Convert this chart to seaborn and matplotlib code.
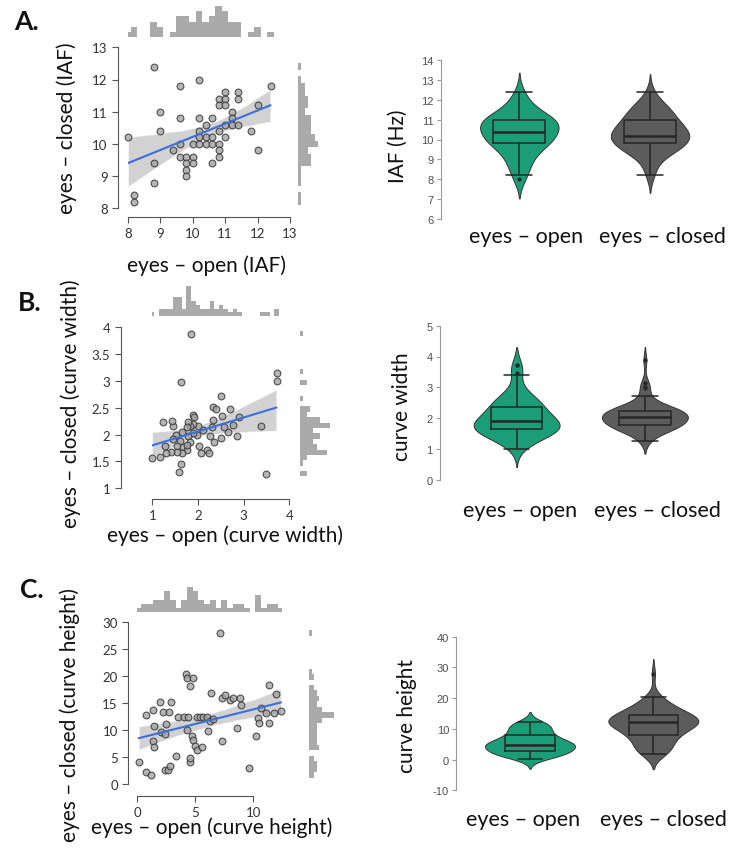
import matplotlib
matplotlib.use("Agg")
import matplotlib.pyplot as plt
import numpy as np
import pandas as pd
import seaborn as sns

sns.set_style("ticks")
plt.rcParams["font.family"] = ["Lato", "DejaVu Sans"]

# --- data (paired: eyes open / eyes closed) ---
iaf_open = [8.8, 10.2, 9.6, 12.4, 11.0, 11.4, 10.8, 11.0, 11.4, 10.8, 11.0, 12.0, 11.2, 9.0,
            9.6, 10.2, 10.6, 11.2, 10.4, 11.0, 11.2, 11.4, 10.2, 10.8, 11.8, 9.0, 8.0, 10.2,
            10.4, 10.6, 11.0, 9.6, 10.0, 10.2, 10.4, 10.6, 10.8, 9.4, 12.0, 10.8, 10.8, 9.6,
            9.8, 10.0, 9.8, 10.0, 8.8, 10.6, 9.8, 9.8, 8.8, 8.2, 8.2]
iaf_closed = [12.4, 12.0, 11.8, 11.8, 11.6, 11.6, 11.4, 11.4, 11.4, 11.2, 11.2, 11.2, 11.0, 11.0,
              10.8, 10.8, 10.8, 10.8, 10.6, 10.6, 10.6, 10.6, 10.4, 10.4, 10.4, 10.4, 10.2, 10.2,
              10.2, 10.2, 10.2, 10.0, 10.0, 10.0, 10.0, 10.0, 10.0, 9.8, 9.8, 9.8, 9.6, 9.6,
              9.6, 9.6, 9.4, 9.4, 9.4, 9.4, 9.2, 9.0, 8.8, 8.4, 8.2]

width_open = [1.84, 1.63, 3.72, 3.72, 2.51, 2.34, 2.40, 2.71, 2.89, 2.52, 2.32, 3.39, 2.85, 2.65,
              2.56, 2.77, 2.31, 2.26, 2.36, 2.50, 2.19, 2.25, 2.07, 2.03, 2.10, 2.01, 1.90, 1.92,
              1.89, 1.83, 1.79, 1.75, 1.97, 1.90, 1.79, 1.83, 1.66, 1.52, 1.46, 1.44, 1.23, 1.61,
              1.54, 1.46, 1.68, 1.75, 1.77, 1.64, 1.53, 1.42, 1.31, 1.28, 1.17, 0.99, 1.63, 1.58,
              3.48]
width_closed = [3.88, 2.98, 3.14, 3.00, 2.72, 2.51, 2.47, 2.47, 2.32, 2.34, 2.27, 2.17, 1.97, 2.04,
                2.15, 2.18, 2.15, 1.97, 1.87, 1.94, 1.71, 1.65, 1.66, 1.79, 2.08, 2.17, 2.36, 2.32,
                2.19, 2.17, 2.24, 2.15, 2.00, 2.03, 1.97, 1.87, 2.04, 2.00, 2.17, 2.26, 2.23, 1.88,
                1.79, 1.92, 1.77, 1.71, 1.80, 1.65, 1.68, 1.67, 1.65, 1.79, 1.58, 1.56, 1.45, 1.30,
                1.27]

height_open = [7.13, 0.11, 0.75, 1.21, 0.75, 1.32, 1.95, 2.90, 2.24, 2.76, 1.44, 2.44, 2.04, 2.36,
               1.38, 1.47, 2.36, 2.61, 2.82, 3.30, 3.51, 4.05, 4.34, 4.25, 4.54, 4.57, 4.54, 4.17,
               4.31, 4.83, 5.11, 5.40, 5.69, 6.03, 4.68, 4.83, 4.97, 5.11, 5.54, 6.09, 6.26, 6.55,
               6.38, 7.33, 7.59, 7.99, 8.28, 8.85, 8.91, 7.30, 8.56, 9.66, 10.2, 10.37, 10.52, 10.63,
               11.06, 11.35, 11.32, 11.93, 11.81, 12.39]
height_closed = [27.9, 4.1, 2.2, 1.7, 12.7, 13.8, 15.2, 15.2, 13.4, 13.4, 10.7, 11.2, 9.7, 9.2,
                 7.9, 6.8, 2.6, 2.6, 3.3, 5.2, 12.5, 12.5, 12.5, 10.1, 4.1, 4.8, 18.2, 20.4,
                 19.7, 19.6, 12.4, 12.4, 12.4, 12.4, 9.0, 8.1, 7.1, 6.4, 6.9, 9.8, 11.6, 12.1,
                 16.8, 15.9, 16.5, 15.6, 15.9, 15.9, 14.6, 7.9, 10.3, 3.0, 9.0, 12.2, 11.4, 14.0,
                 13.2, 11.4, 18.3, 16.7, 13.2, 13.6]

conditions = ["eyes – open", "eyes – closed"]

GREEN = "#1b9e77"
DARK = "#5c5c5c"
HIST_GREY = "#aaaaaa"
POINT_GREY = "#a3a3a3"
LINE_BLUE = "#3b6fe0"

W, H = 729, 853
fig = plt.figure(figsize=(W / 100, H / 100), dpi=100)


def px_axes(left, top, right, bottom):
    """Axes placed in pixel coordinates of the output image."""
    return fig.add_axes([left / W, 1 - bottom / H, (right - left) / W, (bottom - top) / H])


def fig_label(x, y, s, **kw):
    fig.text(x / W, 1 - y / H, s, ha="center", va="center", **kw)


def fmt(v):
    return f"{v:g}"


def scatter_panel(x, y, box, xlim, ylim, xticks, yticks, offsets, top_box, right_box, bw):
    ax = px_axes(*box)
    sns.regplot(
        x=np.array(x), y=np.array(y), ax=ax, ci=95, seed=3,
        scatter_kws=dict(s=24, color=POINT_GREY, edgecolor="#2e2e2e", linewidths=0.8),
        line_kws=dict(color=LINE_BLUE, lw=1.5),
    )
    pts, band = ax.collections[0], ax.collections[1]
    band.set_facecolor("#c4c4c4")
    band.set_alpha(0.75)
    band.set_zorder(1)
    pts.set_zorder(3)
    pts.set_clip_on(False)
    ax.lines[0].set_zorder(4)
    ax.set_xlim(xlim)
    ax.set_ylim(ylim)
    ax.set_xticks(xticks, [fmt(t) for t in xticks], fontfamily="Liberation Sans")
    ax.set_yticks(yticks, [fmt(t) for t in yticks], fontfamily="Liberation Sans")
    ax.set_xlabel("")
    ax.set_ylabel("")
    sns.despine(ax=ax)
    ax.spines["left"].set_position(("outward", offsets[0]))
    ax.spines["bottom"].set_position(("outward", offsets[1]))
    ax.spines["left"].set_bounds(yticks[0], yticks[-1])
    ax.spines["bottom"].set_bounds(xticks[0], xticks[-1])
    for s in ("left", "bottom"):
        ax.spines[s].set_color("#555555")
        ax.spines[s].set_linewidth(0.8)
    ax.tick_params(length=4.5, width=0.8, color="#555555", labelsize=9.5,
                   labelcolor="#333333", pad=3)

    # marginal histograms
    ax_top = px_axes(*top_box)
    sns.histplot(x=x, binwidth=bw[0], binrange=(min(x) - bw[0] / 2, max(x) + bw[0] / 2),
                 color=HIST_GREY, alpha=1, linewidth=0, ax=ax_top)
    ax_top.set_xlim(xlim)
    ax_top.set_ylim(0, max(p.get_height() for p in ax_top.patches))
    ax_top.axis("off")

    ax_right = px_axes(*right_box)
    sns.histplot(y=y, binwidth=bw[1], binrange=(min(y) - bw[1] / 2, max(y) + bw[1] / 2),
                 color=HIST_GREY, alpha=1, linewidth=0, ax=ax_right)
    ax_right.set_ylim(ylim)
    ax_right.set_xlim(0, max(p.get_width() for p in ax_right.patches))
    ax_right.axis("off")
    return ax


def violin_panel(open_vals, closed_vals, box, ylim, yticks, width, label_y, label_x):
    df = pd.DataFrame({
        "condition": [conditions[0]] * len(open_vals) + [conditions[1]] * len(closed_vals),
        "value": list(open_vals) + list(closed_vals),
    })
    ax = px_axes(*box)
    sns.violinplot(
        data=df, x="condition", y="value", hue="condition", order=conditions,
        palette={conditions[0]: GREEN, conditions[1]: DARK}, saturation=1,
        inner=None, cut=2, bw_method="silverman", density_norm="area", width=width,
        linewidth=0.7, linecolor="#333333", legend=False, ax=ax,
    )
    sns.boxplot(
        data=df, x="condition", y="value", order=conditions, fill=False,
        color="#262626", width=0.4, linewidth=1.1, fliersize=2,
        medianprops=dict(linewidth=1.8),
        flierprops=dict(marker="o", markerfacecolor="#262626", markeredgecolor="#262626"),
        ax=ax,
    )
    ax.set_xlim(-0.6, 1.5)
    ax.set_ylim(ylim)
    ax.set_yticks(yticks, [fmt(t) for t in yticks], fontfamily="Liberation Sans")
    ax.set_xticks([])
    ax.set_xlabel("")
    ax.set_ylabel("")
    sns.despine(ax=ax, bottom=True)
    ax.spines["left"].set_color("#9a9a9a")
    ax.spines["left"].set_linewidth(0.8)
    ax.tick_params(axis="y", length=3, width=0.8, color="#9a9a9a", labelsize=8,
                   labelcolor="#505050", pad=2)
    # category names sit a little apart from the violin centres in the reference
    for name, cx in zip(conditions, label_x):
        fig_label(cx, label_y, name, fontsize=15.5, color="#111111")
    return ax


# --- A: IAF ---
scatter_panel(iaf_open, iaf_closed, (127.7, 48.3, 290, 209.3), (8, 13), (8, 13),
              [8, 9, 10, 11, 12, 13], [8, 9, 10, 11, 12, 13], (7, 6.3),
              (127.7, 7, 290, 38), (298, 48.3, 318, 209.3), (0.2, 0.2))
violin_panel(iaf_open, iaf_closed, (440.9, 60.7, 715.4, 220.3), (6, 14),
             list(range(6, 15)), 0.6, 237, (526, 662))

# --- B: curve width ---
scatter_panel(width_open, width_closed, (152.3, 328.3, 289.3, 489.3), (1, 4), (1, 4),
              [1, 2, 3, 4], [1, 1.5, 2, 2.5, 3, 3.5, 4], (22.8, 7.7),
              (152.3, 287, 289.3, 317), (300, 328.3, 330, 489.3), (0.1, 0.1))
violin_panel(width_open, width_closed, (439.7, 326.7, 709, 480.7), (0, 5),
             [0, 1, 2, 3, 4, 5], 0.67, 511, (520, 657))

# --- C: curve height ---
scatter_panel(height_open, height_closed, (137.3, 622.7, 282.3, 785.3), (0, 12.5), (0, 30),
              [0, 5, 10], [0, 5, 10, 15, 20, 25, 30], (6.5, 8.2),
              (137.3, 588, 282.3, 613), (309, 622.7, 334, 785.3), (0.5, 1.0))
violin_panel(height_open, height_closed, (456, 637.7, 715, 791.3), (-10, 40),
             [-10, 0, 10, 20, 30, 40], 0.73, 820, (523, 663))

# --- text ---
lab_kw = dict(fontsize=15, color="#111111")
fig_label(206, 266, "eyes – open (IAF)", **lab_kw)
fig_label(67, 128, "eyes – closed (IAF)", rotation=90, **lab_kw)
fig_label(225, 536, "eyes – open (curve width)", **lab_kw)
fig_label(71, 404, "eyes – closed (curve width)", rotation=90, **lab_kw)
fig_label(212, 828, "eyes – open (curve height)", **lab_kw)
fig_label(70, 715, "eyes – closed (curve height)", rotation=90, **lab_kw)

fig_label(398, 146, "IAF (Hz)", rotation=90, **lab_kw)
fig_label(402, 407, "curve width", rotation=90, **lab_kw)
fig_label(407, 716, "curve height", rotation=90, **lab_kw)

letter_kw = dict(fontsize=19, fontweight="bold", color="#111111")
fig_label(26, 22, "A.", **letter_kw)
fig_label(30, 303, "B.", **letter_kw)
fig_label(32, 590, "C.", **letter_kw)

fig.savefig("out.png", dpi=100)
